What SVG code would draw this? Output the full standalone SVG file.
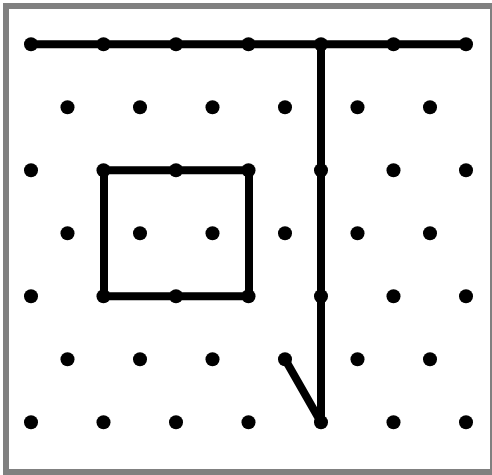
<svg xmlns="http://www.w3.org/2000/svg" width="492" height="475" viewBox="0 0 492 475">
<style>
.dot{fill:#000}
.ln{stroke:#000;stroke-width:8;stroke-linecap:round;stroke-linejoin:round;fill:none}
</style>
<rect x="0" y="0" width="492" height="475" fill="#fff"/>
<rect x="6" y="6" width="487" height="466" fill="none" stroke="#808080" stroke-width="6"/>
<g id="connectors">
<line class="ln" x1="31" y1="44.3" x2="466" y2="44.3"/>
<line class="ln" x1="321" y1="44.3" x2="321" y2="422.3"/>
<line class="ln" x1="285" y1="359.3" x2="321" y2="422.3"/>
<rect class="ln" x="104" y="170.3" width="145" height="126"/>
</g>
<g id="dots">
<g id="row0">
<circle class="dot" cx="31" cy="44.3" r="7"/><circle class="dot" cx="103.5" cy="44.3" r="7"/><circle class="dot" cx="176" cy="44.3" r="7"/><circle class="dot" cx="248.5" cy="44.3" r="7"/><circle class="dot" cx="321" cy="44.3" r="7"/><circle class="dot" cx="393.5" cy="44.3" r="7"/><circle class="dot" cx="466" cy="44.3" r="7"/>
</g>
<g id="row1">
<circle class="dot" cx="67.5" cy="107.3" r="7"/><circle class="dot" cx="140" cy="107.3" r="7"/><circle class="dot" cx="212.5" cy="107.3" r="7"/><circle class="dot" cx="285" cy="107.3" r="7"/><circle class="dot" cx="357.5" cy="107.3" r="7"/><circle class="dot" cx="430" cy="107.3" r="7"/>
</g>
<g id="row2">
<circle class="dot" cx="31" cy="170.3" r="7"/><circle class="dot" cx="103.5" cy="170.3" r="7"/><circle class="dot" cx="176" cy="170.3" r="7"/><circle class="dot" cx="248.5" cy="170.3" r="7"/><circle class="dot" cx="321" cy="170.3" r="7"/><circle class="dot" cx="393.5" cy="170.3" r="7"/><circle class="dot" cx="466" cy="170.3" r="7"/>
</g>
<g id="row3">
<circle class="dot" cx="67.5" cy="233.3" r="7"/><circle class="dot" cx="140" cy="233.3" r="7"/><circle class="dot" cx="212.5" cy="233.3" r="7"/><circle class="dot" cx="285" cy="233.3" r="7"/><circle class="dot" cx="357.5" cy="233.3" r="7"/><circle class="dot" cx="430" cy="233.3" r="7"/>
</g>
<g id="row4">
<circle class="dot" cx="31" cy="296.3" r="7"/><circle class="dot" cx="103.5" cy="296.3" r="7"/><circle class="dot" cx="176" cy="296.3" r="7"/><circle class="dot" cx="248.5" cy="296.3" r="7"/><circle class="dot" cx="321" cy="296.3" r="7"/><circle class="dot" cx="393.5" cy="296.3" r="7"/><circle class="dot" cx="466" cy="296.3" r="7"/>
</g>
<g id="row5">
<circle class="dot" cx="67.5" cy="359.3" r="7"/><circle class="dot" cx="140" cy="359.3" r="7"/><circle class="dot" cx="212.5" cy="359.3" r="7"/><circle class="dot" cx="285" cy="359.3" r="7"/><circle class="dot" cx="357.5" cy="359.3" r="7"/><circle class="dot" cx="430" cy="359.3" r="7"/>
</g>
<g id="row6">
<circle class="dot" cx="31" cy="422.3" r="7"/><circle class="dot" cx="103.5" cy="422.3" r="7"/><circle class="dot" cx="176" cy="422.3" r="7"/><circle class="dot" cx="248.5" cy="422.3" r="7"/><circle class="dot" cx="321" cy="422.3" r="7"/><circle class="dot" cx="393.5" cy="422.3" r="7"/><circle class="dot" cx="466" cy="422.3" r="7"/>
</g>
</g>
</svg>
